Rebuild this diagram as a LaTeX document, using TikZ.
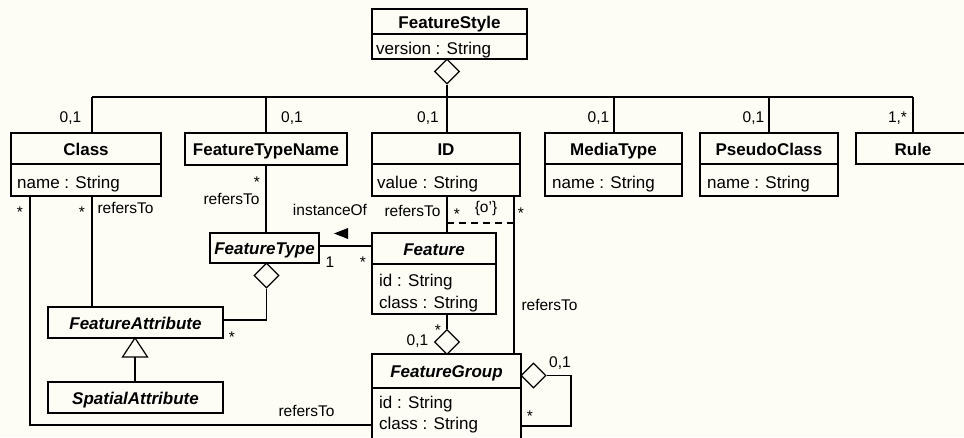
\documentclass[tikz,border=0pt]{standalone}
\usepackage{fontspec}
\setmainfont{Liberation Sans}
\usetikzlibrary{fit,shapes.geometric}
\definecolor{paper}{RGB}{253,253,245}

\tikzset{
  frame/.style={draw, line width=2.6pt, inner sep=0pt},
  divider/.style={line width=1.2pt},
  conn/.style={line width=1.2pt},
  ttl/.style={inner sep=0pt, text height=12pt, text depth=0pt,
    font=\fontsize{17}{20}\selectfont\bfseries},
  ittl/.style={ttl, font=\fontsize{17}{20}\selectfont\bfseries\itshape},
  attr/.style={inner sep=0pt, anchor=west, text height=12pt, text depth=0pt,
    font=\fontsize{17}{20}\selectfont},
  lbl/.style={inner sep=0pt, anchor=base, font=\fontsize{15.5}{18}\selectfont},
  aggr/.style={diamond, draw, line width=1.2pt, fill=paper, inner sep=0pt,
    minimum width=25pt, minimum height=25pt},
}

% #1 name, #2 x1, #3 y1, #4 x2, #5 y2, #6 divider y, #7 title style, #8 title
\newcommand\umlclass[8]{%
  \coordinate (#1-nw) at (#2,#3);
  \coordinate (#1-se) at (#4,#5);
  \draw[divider] (#2,#6) -- (#4,#6);
  \node[frame, fit=(#1-nw)(#1-se)] (#1) {};
  \node[#7] (#1-name) at ({(#2+#4)/2},{(#3+#6)/2+0.5}) {#8};
}

\begin{document}
\begin{tikzpicture}[x=1pt,y=-1pt]
\useasboundingbox (0,0) rectangle (964,437);
\clip (0,0) rectangle (964,437);
\fill[paper] (0,0) rectangle (964,437);

% ---- classes
\umlclass{fs}{372}{9}{527}{59}{34}{ttl}{FeatureStyle}
\node[attr] (fs-a1) at (376,48) {version : String};

\umlclass{cls}{11}{133}{161}{196}{164}{ttl}{Class}
\node[attr] (cls-a1) at (17,182) {name : String};

\umlclass{ftn}{185}{133}{347}{165}{165}{ttl}{FeatureTypeName}

\umlclass{id}{372}{133}{520}{196}{164}{ttl}{ID}
\node[attr] (id-a1) at (377,182) {value : String};

\umlclass{mt}{545}{133}{682}{196}{164}{ttl}{MediaType}
\node[attr] (mt-a1) at (552,182) {name : String};

\umlclass{pc}{700}{133}{838}{196}{164}{ttl}{PseudoClass}
\node[attr] (pc-a1) at (707,182) {name : String};

\umlclass{rule}{856}{133}{970}{164}{164}{ttl}{Rule}

\umlclass{ft}{210}{233}{319}{263}{263}{ittl}{FeatureType}

\umlclass{feat}{372}{233}{496}{314}{264}{ittl}{Feature}
\node[attr] (feat-a1) at (379,280) {id : String};
\node[attr] (feat-a2) at (379,302) {class : String};

\umlclass{fa}{48}{307}{223}{338}{338}{ittl}{FeatureAttribute}
\umlclass{sa}{48}{382}{223}{413}{413}{ittl}{SpatialAttribute}

\umlclass{fg}{372}{354}{521}{446}{388}{ittl}{FeatureGroup}
\node[attr] (fg-a1) at (379,402.5) {id : String};
\node[attr] (fg-a2) at (379,423.5) {class : String};

% ---- bus under FeatureStyle
\coordinate (b1) at (92,97);
\coordinate (b2) at (266,97);
\coordinate (b3) at (447,97);
\coordinate (b4) at (614,97);
\coordinate (b5) at (769,97);
\coordinate (b6) at (913,97);
\node[aggr] (d1) at (447,71.5) {};
\draw[conn] (d1.south) -- (b3);
\draw[conn] (b1) -- (b6);
\draw[conn] (b1) -- (b1 |- cls.north);
\draw[conn] (b2) -- (b2 |- ftn.north);
\draw[conn] (b3) -- (b3 |- id.north);
\draw[conn] (b4) -- (b4 |- mt.north);
\draw[conn] (b5) -- (b5 |- pc.north);
\draw[conn] (b6) -- (b6 |- rule.north);

% ---- associations
\draw[conn] (b1 |- cls.south) -- (b1 |- fa.north);
\coordinate (k) at (30,425);
\draw[conn] (k |- cls.south) -- (k) -- (k -| fg.west);
\draw[conn] (b2 |- ftn.south) -- (b2 |- ft.north);
\draw[conn] (feat.west |- 0,246) -- (ft.east |- 0,246);
\fill (334,233.5) -- (348,228) -- (348,239) -- cycle;
\draw[conn] (b3 |- id.south) -- (b3 |- feat.north);
\coordinate (g) at (514,97);
\draw[conn] (g |- id.south) -- (g |- fg.north);
\draw[conn, dashed, dash pattern=on 7pt off 5pt] (b3 |- 0,223) -- (g |- 0,223);

% ---- aggregations
\node[aggr] (d2) at (266.5,275.5) {};
\draw[conn] (d2.south) -- (266.5,320) -- (fa.east |- 0,320);
\node[aggr] (d3) at (447,342) {};
\draw[conn] (b3 |- feat.south) -- (d3.north);
\node[aggr] (d4) at (533.5,375.5) {};
\draw[conn] (d4.east) -- (571,375.5) -- (571,426) -- (fg.east |- 0,426);

% ---- generalization
\coordinate (tri) at (135,357);
\draw[conn, fill=paper] (135,338) -- (147.5,357) -- (122.5,357) -- cycle;
\draw[conn] (tri) -- (tri |- sa.north);

% ---- labels
\node[lbl] (m-cls) at (70.5,122.5) {0,1};
\node[lbl] (m-ftn) at (292,122.5) {0,1};
\node[lbl] (m-id) at (428,122.5) {0,1};
\node[lbl] (m-mt) at (598.5,122.5) {0,1};
\node[lbl] (m-pc) at (753.5,122.5) {0,1};
\node[lbl] (m-rule) at (897.5,122.5) {1,*};

\node[lbl] (s1) at (20,217.5) {*};
\node[lbl] (s2) at (82,217.5) {*};
\node[lbl] (s3) at (257,187) {*};
\node[lbl] (s4) at (457,219) {*};
\node[lbl] (s5) at (521,218) {*};
\node[lbl] (s6) at (363,267) {*};
\node[lbl] (s7) at (232,342) {*};
\node[lbl] (s8) at (438,335) {*};
\node[lbl] (s9) at (530,421) {*};

\node[lbl] (r1) at (125.5,213) {refersTo};
\node[lbl] (r2) at (231.5,204) {refersTo};
\node[lbl] (r3) at (412.5,216) {refersTo};
\node[lbl] (r4) at (549.5,310) {refersTo};
\node[lbl] (r5) at (306.5,416) {refersTo};
\node[lbl] (inst) at (330,215) {instanceOf};
\node[lbl] (xor) at (486,212) {\{o'\}};
\node[lbl] (one) at (330,267) {1};
\node[lbl] (m-fg) at (417.5,345) {0,1};
\node[lbl] (m-self) at (560,367) {0,1};
\end{tikzpicture}
\end{document}
